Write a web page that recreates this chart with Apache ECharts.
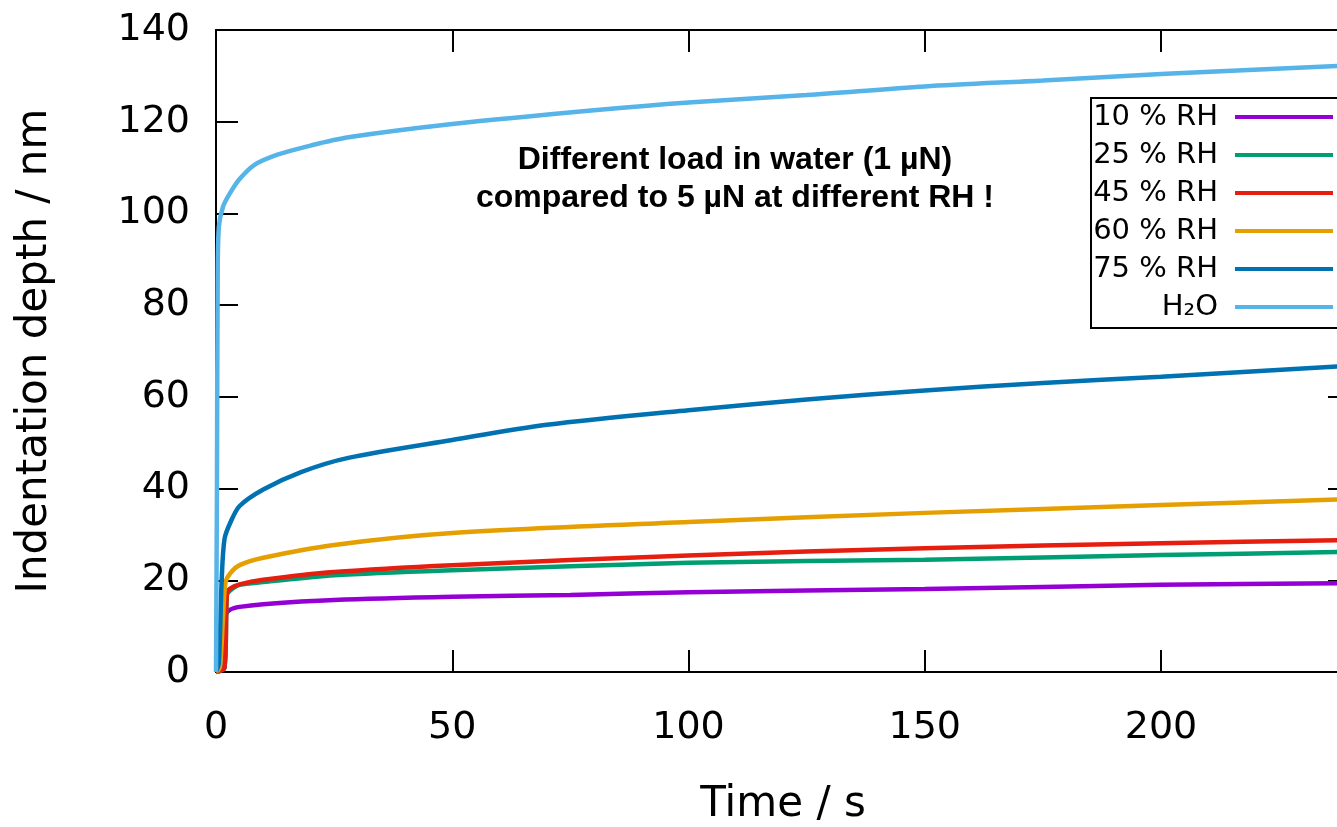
<!DOCTYPE html>
<html>
<head>
<meta charset="utf-8">
<script src="https://cdn.jsdelivr.net/npm/echarts@6/dist/echarts.min.js"></script>
<style>
  html, body { margin: 0; padding: 0; background: #fff; }
  #chart { width: 1337px; height: 827px; }
</style>
</head>
<body>
<div id="chart"></div>
<script>
// [time in s, indentation depth in nm]
const rh10 = [[0, 0], [1.8, 1], [2.1, 12.5], [3, 13.6], [5, 14.2], [10, 14.8], [25, 15.7], [50, 16.4], [75, 16.8], [100, 17.4], [150, 18.1], [200, 19], [240, 19.4]];
const rh25 = [[0, 0], [1.8, 1], [2.3, 16.8], [3, 17.8], [5, 19], [10, 19.6], [25, 21.1], [50, 22.2], [100, 23.8], [150, 24.5], [200, 25.5], [240, 26.2]];
const rh45 = [[0, 0], [1.8, 1], [2.3, 17], [3, 18.2], [5, 19.1], [10, 20.1], [25, 21.8], [50, 23.3], [100, 25.4], [150, 27], [200, 28.1], [240, 28.8]];
const rh60 = [[0, 0], [0.8, 1], [1.5, 12], [2, 19.5], [3, 21.5], [5, 23.3], [10, 24.9], [25, 27.7], [50, 30.3], [100, 32.7], [150, 34.7], [200, 36.4], [240, 37.7]];
const rh75 = [[0, 0], [0.6, 2], [1.2, 20], [1.8, 29], [3, 32.5], [5, 36.2], [10, 39.8], [18, 43.6], [28, 46.7], [50, 50.6], [70, 53.9], [100, 57.1], [125, 59.4], [150, 61.4], [175, 63], [200, 64.4], [240, 66.8]];
const water = [[0, 0], [0.2, 40], [0.35, 85], [0.6, 97], [1.5, 101.5], [3, 104.5], [5, 107.5], [8, 110.5], [13, 112.8], [20, 114.8], [28, 116.6], [50, 119.5], [80, 122.5], [100, 124.2], [125, 125.8], [150, 127.7], [175, 129], [200, 130.4], [240, 132.3]];

const seriesNames = ["10 % RH", "25 % RH", "45 % RH", "60 % RH", "75 % RH", "H\u2082O"];
const seriesData = [rh10, rh25, rh45, rh60, rh75, water];
const colors = ["#9400d3", "#009e73", "#e51e10", "#e69f00", "#0072b2", "#56b4e9"];

const note = ["Different load in water (1 \u00b5N)", "compared to 5 \u00b5N at different RH !"];

const font = "DejaVu Sans";
const axisLine = { show: true, onZero: false, lineStyle: { color: "#000", width: 2 } };
const innerTick = { show: true, inside: true, length: 22, lineStyle: { color: "#000", width: 2 } };

const chart = echarts.init(document.getElementById("chart"));
chart.setOption({
  animation: false,
  backgroundColor: "#fff",
  color: colors,
  grid: { left: 216, top: 30, right: -13, bottom: 155, outerBoundsMode: "none" },
  legend: {
    orient: "vertical",
    left: 1091,
    top: 98,
    align: "right",
    icon: "rect",
    itemWidth: 98,
    itemHeight: 4,
    itemGap: 8,
    padding: [4, 14, 6, 0],
    borderColor: "#000",
    borderWidth: 2,
    backgroundColor: "#fff",
    data: seriesNames,
    formatter: (name) => `{n|${name}}`,
    textStyle: {
      color: "#000",
      fontFamily: font,
      fontSize: 29,
      lineHeight: 30,
      rich: { n: { width: 127, align: "right", padding: [0, 12, 0, 0], fontSize: 29, fontFamily: font } },
    },
  },
  graphic: note.map((t, i) => ({
    type: "text",
    x: 735,
    y: 160 + i * 38,
    style: {
      text: t,
      textAlign: "center",
      textVerticalAlign: "middle",
      fill: "#000",
      font: "bold 32px 'Liberation Sans'",
    },
  })),
  xAxis: [
    {
      type: "value",
      min: 0,
      max: 240,
      interval: 50,
      name: "Time / s",
      nameLocation: "middle",
      nameGap: 112,
      nameTextStyle: { color: "#000", fontFamily: font, fontSize: 42 },
      axisLine,
      axisTick: innerTick,
      splitLine: { show: false },
      axisLabel: { color: "#000", fontFamily: font, fontSize: 38, margin: 37, showMaxLabel: false },
    },
    {
      type: "value",
      position: "top",
      min: 0,
      max: 240,
      interval: 50,
      axisLine,
      axisTick: innerTick,
      splitLine: { show: false },
      axisLabel: { show: false },
    },
  ],
  yAxis: [
    {
      type: "value",
      min: 0,
      max: 140,
      interval: 20,
      name: "Indentation depth / nm",
      nameLocation: "middle",
      nameGap: 160,
      nameTextStyle: { color: "#000", fontFamily: font, fontSize: 42 },
      axisLine,
      axisTick: innerTick,
      splitLine: { show: false },
      axisLabel: { color: "#000", fontFamily: font, fontSize: 38, margin: 26 },
    },
    {
      type: "value",
      position: "right",
      min: 0,
      max: 140,
      interval: 20,
      axisLine,
      axisTick: innerTick,
      splitLine: { show: false },
      axisLabel: { show: false },
    },
  ],
  series: seriesNames.map((name, i) => ({
    name,
    type: "line",
    data: seriesData[i],
    symbol: "none",
    smooth: 0.3,
    lineStyle: { width: 4.5, color: colors[i] },
    z: 2 + i,
  })),
});
</script>
</body>
</html>
